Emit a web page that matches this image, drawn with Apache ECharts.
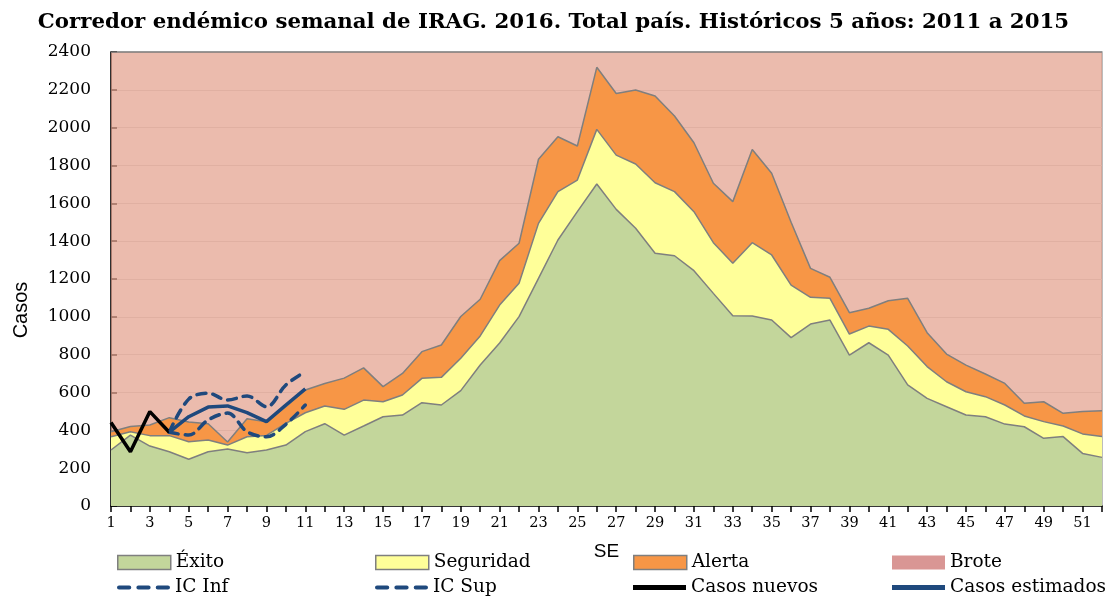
<!DOCTYPE html>
<html>
<head>
<meta charset="utf-8">
<script src="https://cdn.jsdelivr.net/npm/echarts@6/dist/echarts.min.js"></script>
<style>
  html, body { margin: 0; padding: 0; background: #fff; }
  #chart { width: 1107px; height: 598px; }
</style>
</head>
<body>
<div id="chart"></div>
<script>
// semanas epidemiológicas
const semanas = ['1','2','3','4','5','6','7','8','9','10','11','12','13','14','15','16','17','18','19','20',
  '21','22','23','24','25','26','27','28','29','30','31','32','33','34','35','36','37','38','39','40',
  '41','42','43','44','45','46','47','48','49','50','51','52'];

// límites superiores de cada zona
const exito = [296, 375, 317, 287, 247, 287, 301, 282, 296, 322, 393, 435, 375, 423, 472, 481, 546, 534, 610, 745,
  862, 1001, 1203, 1406, 1556, 1702, 1568, 1468, 1336, 1323, 1244, 1124, 1006, 1004, 983, 890, 962, 983, 798, 863,
  798, 640, 569, 525, 481, 472, 433, 419, 358, 367, 278, 257];
const seguridad = [366, 393, 372, 372, 340, 349, 322, 366, 373, 437, 493, 529, 511, 560, 551, 587, 675, 680, 781, 899,
  1062, 1177, 1494, 1662, 1723, 1991, 1855, 1808, 1709, 1662, 1556, 1392, 1283, 1392, 1327, 1168, 1103, 1098, 909, 951,
  934, 846, 737, 657, 604, 578, 534, 476, 446, 423, 381, 367];
const alerta = [393, 420, 428, 467, 444, 435, 338, 461, 445, 525, 613, 648, 676, 730, 631, 701, 816, 851, 1002, 1093,
  1297, 1389, 1833, 1952, 1903, 2319, 2181, 2199, 2167, 2062, 1920, 1706, 1609, 1885, 1759, 1500, 1256, 1209, 1022, 1045,
  1085, 1098, 916, 803, 745, 698, 648, 543, 551, 490, 499, 504];
const brote = [2400, 2400, 2400, 2400, 2400, 2400, 2400, 2400, 2400, 2400, 2400, 2400, 2400, 2400, 2400, 2400, 2400, 2400, 2400, 2400,
  2400, 2400, 2400, 2400, 2400, 2400, 2400, 2400, 2400, 2400, 2400, 2400, 2400, 2400, 2400, 2400, 2400, 2400, 2400, 2400,
  2400, 2400, 2400, 2400, 2400, 2400, 2400, 2400, 2400, 2400, 2400, 2400];

// casos 2016
const casosNuevos = [441, 287, 499, 390];
const casosEstimados = [null, null, null, 390, 472, 523, 529, 494, 446, 534, 619];
const icInf = [null, null, null, 390, 375, 455, 491, 393, 366, 432, 534];
const icSup = [null, null, null, 390, 565, 596, 560, 582, 525, 640, 710];

const AZUL = '#1F497D';
const GRIS = '#7F7F7F';
const SERIF = 'DejaVu Serif';

const zona = (name, data, color, z) => ({
  name, type: 'line', data, z, color,
  symbol: 'none',
  lineStyle: { color: GRIS, width: 1.5 },
  areaStyle: { color, opacity: 1 },
  emphasis: { disabled: true }
});

const linea = (name, data, color, dashed, smooth) => ({
  name, type: 'line', data, z: 10, color,
  symbol: 'none', smooth,
  lineStyle: { color, width: 3.5, type: dashed ? [9, 7] : 'solid', cap: dashed ? 'round' : 'butt' },
  emphasis: { disabled: true }
});

// iconos de leyenda para las líneas
const ICONO_GUIONES = 'path://M2,0h10a2,2 0 0 1 0,4h-10a2,2 0 0 1 0,-4z M21,0h10a2,2 0 0 1 0,4h-10a2,2 0 0 1 0,-4z M40,0h10a2,2 0 0 1 0,4h-10a2,2 0 0 1 0,-4z';

// leyenda: 2 filas x 4 columnas
const leyendaCols = [117, 375, 633, 892];
const leyendaFilas = [553, 578];
const leyendaItems = [
  { name: 'Éxito', icon: 'rect', itemStyle: { borderColor: GRIS, borderWidth: 1.5 } },
  { name: 'Seguridad', icon: 'rect', itemStyle: { borderColor: GRIS, borderWidth: 1.5 } },
  { name: 'Alerta', icon: 'rect', itemStyle: { borderColor: GRIS, borderWidth: 1.5 } },
  { name: 'Brote', icon: 'rect', itemStyle: { color: '#D99694', borderWidth: 0 } },
  { name: 'IC Inf', icon: ICONO_GUIONES },
  { name: 'IC Sup', icon: ICONO_GUIONES },
  { name: 'Casos nuevos', icon: 'rect' },
  { name: 'Casos estimados', icon: 'rect' }
];
const leyendas = leyendaItems.map((it, i) => ({
  data: [it],
  left: leyendaCols[i % 4],
  top: leyendaFilas[Math.floor(i / 4)],
  padding: 0,
  itemWidth: 53,
  itemHeight: i < 4 ? 14 : 5,
  selectedMode: false,
  textStyle: { fontFamily: SERIF, fontSize: 18.5, color: '#000' }
}));

const chart = echarts.init(document.getElementById('chart'));
chart.setOption({
  animation: false,
  title: {
    text: 'Corredor endémico semanal de IRAG. 2016. Total país. Históricos 5 años: 2011 a 2015',
    left: 'center', top: 7,
    textStyle: { fontFamily: SERIF, fontWeight: 'bold', fontSize: 21.3, color: '#000' }
  },
  legend: leyendas,
  grid: {
    left: 111, right: 5, top: 52, bottom: 92,
    show: true, borderColor: '#A6A6A6', borderWidth: 1.5, backgroundColor: 'transparent'
  },
  xAxis: {
    type: 'category', data: semanas, boundaryGap: false,
    name: 'SE', nameLocation: 'middle', nameGap: 36,
    nameTextStyle: { fontFamily: 'Liberation Sans', fontSize: 19, color: '#000' },
    axisLine: { lineStyle: { color: '#000', width: 1.5 } },
    axisTick: { interval: 0, length: 6, lineStyle: { color: '#000', width: 1.5 } },
    axisLabel: { interval: 1, margin: 10, fontFamily: SERIF, fontSize: 14.5, color: '#000' },
    splitLine: { show: false }
  },
  yAxis: {
    type: 'value', min: 0, max: 2400, interval: 200,
    name: 'Casos', nameLocation: 'middle', nameGap: 80, nameRotate: 90,
    nameTextStyle: { fontFamily: 'Liberation Sans', fontSize: 20, color: '#000', padding: [0, 0, 0, -62] },
    axisLine: { show: true, lineStyle: { color: '#000', width: 1.5 } },
    axisTick: { show: true, inside: true, length: 6, lineStyle: { color: '#000', width: 1.5 } },
    axisLabel: { margin: 20, fontFamily: SERIF, fontSize: 17, color: '#000', formatter: v => String(v) },
    splitLine: { lineStyle: { color: '#D9D9D9', width: 1 } }
  },
  series: [
    {
      name: 'Brote', type: 'line', data: brote, z: 1, color: 'rgba(226,158,138,0.7)',
      symbol: 'none', lineStyle: { color: GRIS, width: 1.5 },
      areaStyle: { color: 'rgba(226,158,138,0.7)', opacity: 1 },
      emphasis: { disabled: true }
    },
    zona('Alerta', alerta, '#F79646', 2),
    zona('Seguridad', seguridad, '#FFFF99', 3),
    zona('Éxito', exito, '#C3D69B', 4),
    linea('IC Inf', icInf, AZUL, true, 0.35),
    linea('IC Sup', icSup, AZUL, true, 0.35),
    linea('Casos nuevos', casosNuevos, '#000', false, false),
    linea('Casos estimados', casosEstimados, AZUL, false, false)
  ]
});
</script>
</body>
</html>
